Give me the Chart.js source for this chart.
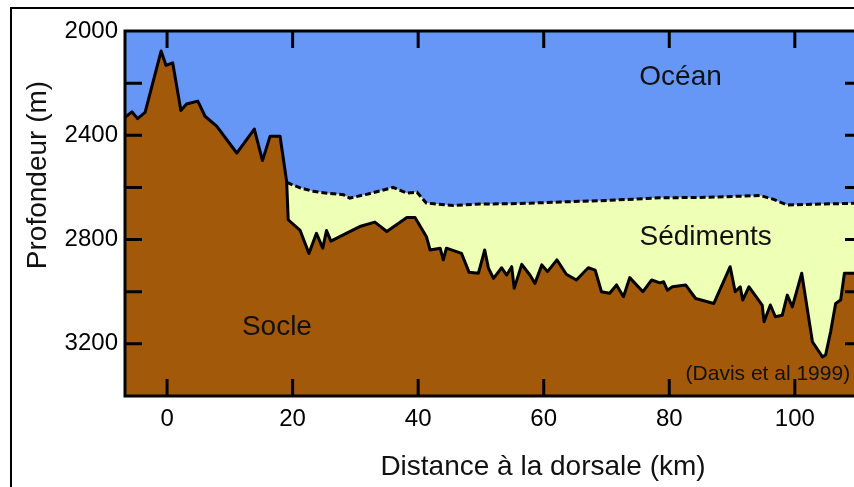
<!DOCTYPE html>
<html><head><meta charset="utf-8">
<script src="https://cdn.jsdelivr.net/npm/chart.js@4"></script>
<style>
html,body{margin:0;padding:0;background:#fff;overflow:hidden;width:854px;height:487px;}
#wrap{position:relative;width:854px;height:487px;overflow:hidden;}
#frame{position:absolute;left:10px;top:7px;width:1000px;height:1000px;border:2px solid #000;box-sizing:border-box;}
canvas{position:absolute;left:0;top:0;}
</style></head><body>
<div id="wrap"><div id="frame"></div><canvas id="c" width="880" height="487"></canvas></div>
<script>
// Basement (socle) profile: distance (km) and depth (m)
const basementKm = [-6.7,-5.6,-4.7,-3.5,-0.95,-0.16,0.9,2.2,3.1,4.9,6.05,7.9,11.1,13.9,15.2,16.4,18.0,19.05,19.3,21.2,22.6,23.8,24.8,25.4,26.1,28.7,30.7,33.1,35.0,38.2,39.5,41.3,41.9,43.5,44.0,44.5,46.9,48.1,49.6,50.6,51.2,52.0,53.3,54.1,54.9,55.3,56.5,57.8,58.6,59.7,60.6,62.1,63.6,65.2,67.1,68.2,69.2,70.5,71.6,72.7,73.7,75.8,77.2,78.5,79.1,79.7,80.5,82.6,84.2,87.1,89.7,90.5,91.3,91.7,92.7,94.8,95.1,96.1,96.9,98.0,98.8,99.6,101.1,102.8,104.4,104.9,105.7,106.5,107.3,107.9,110.7];
const basementDepth = [2331,2310,2336,2312,2077,2132,2122,2305,2280,2269,2327,2365,2468,2376,2497,2404,2404,2577,2724,2765,2853,2776,2833,2765,2806,2774,2750,2733,2769,2715,2715,2788,2840,2833,2878,2833,2853,2925,2929,2840,2910,2949,2908,2936,2904,2987,2895,2936,2968,2897,2923,2878,2933,2955,2908,2917,3000,3006,2974,3019,2946,3000,2955,2966,2962,2994,2981,2974,3026,3045,2904,3000,2981,3032,2981,3051,3115,3051,3096,3090,3013,3058,2929,3192,3250,3243,3154,3045,3032,2929,2929];
// Top of sediments (sea floor) where sediments exist
const sedimentKm = [19.1,21.0,23.3,25.5,28.1,29.1,32.0,36.0,38.2,39.8,41.3,45.6,49.8,56.0,62.6,70.0,78.5,86.0,94.5,96.5,98.8,104.0,110.7];
const sedimentDepth = [2581,2600,2615,2622,2628,2641,2625,2600,2622,2618,2660,2669,2664,2662,2656,2650,2640,2638,2631,2645,2667,2664,2660];
// Axes
const xTickLabels = [0,20,40,60,80,100];
const yTickLabels = [2000,2400,2800,3200];
const yTickMarks = [2200,2400,2600,2800,3000,3200];
const xTickMarks = [0,20,40,60,80,100];
const xTitle = 'Distance à la dorsale (km)';
const yTitle = 'Profondeur (m)';
// Region labels
const regionNames = ['Océan','Sédiments','Socle'];
const regionKm = [81.8,85.8,17.5];
const regionDepth = [2176,2790,3135];
const sourceText = '(Davis et al 1999)';
const sourceKm = 95.7, sourceDepth = 3316;

const FONT = "'Liberation Sans', Arial, Helvetica, sans-serif";
const basementPts = basementKm.map((x,i)=>({x, y: basementDepth[i]}));
const sedimentPts = sedimentKm.map((x,i)=>({x, y: sedimentDepth[i]}));
const oceanPts = basementPts.filter(p=>p.x < sedimentKm[0]).concat(sedimentPts);

const decor = {
  id:'decor',
  beforeDatasetsDraw(chart){
    const {ctx, chartArea:a} = chart;
    ctx.save(); ctx.fillStyle='#eeffb6';
    ctx.fillRect(a.left,a.top,a.right-a.left,a.bottom-a.top); ctx.restore();
  },
  afterDatasetsDraw(chart){
    const {ctx, chartArea:a, scales:{x,y}} = chart;
    ctx.save();
    ctx.fillStyle='#111'; ctx.textAlign='center'; ctx.textBaseline='middle';
    ctx.font = '28px '+FONT;
    regionNames.forEach((t,i)=>ctx.fillText(t, x.getPixelForValue(regionKm[i]), y.getPixelForValue(regionDepth[i])));
    ctx.font = '21px '+FONT;
    ctx.fillText(sourceText, x.getPixelForValue(sourceKm), y.getPixelForValue(sourceDepth));
    // frame
    ctx.strokeStyle='#000'; ctx.lineWidth=3;
    ctx.strokeRect(a.left,a.top,a.right-a.left,a.bottom-a.top);
    // inward ticks
    const L=17;
    ctx.beginPath();
    xTickMarks.forEach(v=>{const px=x.getPixelForValue(v);
      ctx.moveTo(px,a.bottom); ctx.lineTo(px,a.bottom-L);
      ctx.moveTo(px,a.top); ctx.lineTo(px,a.top+L);});
    yTickMarks.forEach(v=>{const py=y.getPixelForValue(v);
      ctx.moveTo(a.left,py); ctx.lineTo(a.left+L,py);
      ctx.moveTo(a.right,py); ctx.lineTo(a.right-L,py);});
    ctx.stroke();
    // axis titles
    ctx.font='28px '+FONT;
    ctx.fillText(xTitle, 543, 467);
    ctx.translate(38,175); ctx.rotate(-Math.PI/2);
    ctx.fillText(yTitle, 0, 0);
    ctx.restore();
  }
};

new Chart(document.getElementById('c'), {
  type:'line',
  data:{datasets:[
    {label:'Océan', data:oceanPts, fill:{value:2000}, backgroundColor:'#6797f6', borderWidth:0, borderColor:'rgba(0,0,0,0)', pointRadius:0, tension:0, order:3},
    {label:'Sédiments', data:sedimentPts, fill:false, borderColor:'#000', borderWidth:3, borderDash:[6,3], pointRadius:0, tension:0, order:1},
    {label:'Socle', data:basementPts, fill:{value:3400}, backgroundColor:'#a3590a', borderColor:'#000', borderWidth:3, borderJoinStyle:'round', pointRadius:0, tension:0, order:2}
  ]},
  options:{
    responsive:false, devicePixelRatio:1, animation:false,
    layout:{padding:{top:31,right:18,left:0,bottom:0}},
    plugins:{legend:{display:false}, tooltip:{enabled:false}},
    scales:{
      x:{type:'linear', min:-6.7, max:110.7,
        grid:{display:false, drawTicks:false}, border:{display:false},
        afterBuildTicks:s=>{s.ticks = xTickLabels.map(v=>({value:v}));},
        afterFit:s=>{s.height = 91;},
        ticks:{color:'#000', font:{family:FONT,size:24}, padding:9, maxRotation:0, autoSkip:false, callback:v=>String(v)}},
      y:{type:'linear', min:2000, max:3400, reverse:true,
        grid:{display:false, drawTicks:false}, border:{display:false},
        afterBuildTicks:s=>{s.ticks = yTickLabels.map(v=>({value:v}));},
        afterFit:s=>{s.width = 125;},
        ticks:{color:'#000', font:{family:FONT,size:24}, padding:7, autoSkip:false, callback:v=>String(v)}}
    }
  },
  plugins:[decor]
});
</script>
</body></html>
